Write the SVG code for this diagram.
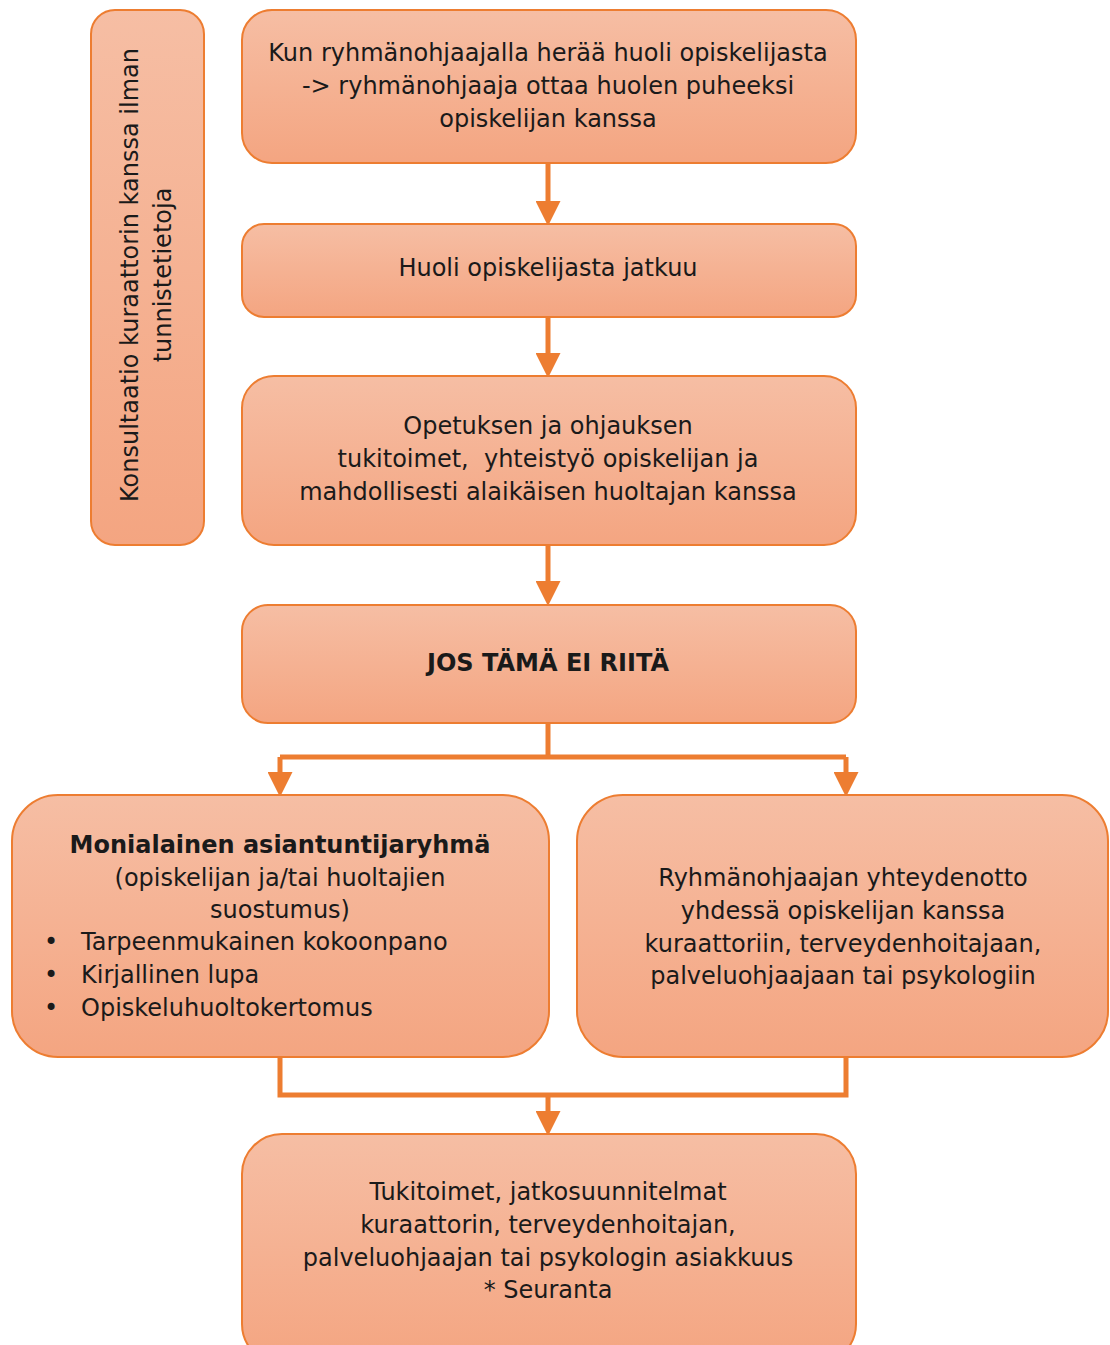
<svg xmlns="http://www.w3.org/2000/svg" width="1110" height="1345" viewBox="0 0 1110 1345">
<style>
.box{fill:url(#g);stroke:#ED7D31;stroke-width:2}
.t{font-family:"DejaVu Sans",sans-serif;font-size:24px;fill:#1a1a1a;text-anchor:middle}
.b{font-weight:bold}
.l{text-anchor:start}
.c{fill:none;stroke:#ED7D31;stroke-width:5}
</style>
<defs>
<linearGradient id="g" x1="0" y1="0" x2="0" y2="1">
<stop offset="0" stop-color="#F6BEA4"/>
<stop offset="1" stop-color="#F4A581"/>
</linearGradient>
<marker id="a" markerWidth="5" markerHeight="5" refX="2.2" refY="2.5" orient="auto" markerUnits="strokeWidth" viewBox="0 0 5 5">
<path d="M0,0 L5,2.5 L0,5 Z" fill="#ED7D31"/>
</marker>
</defs>
<g id="connectors">
<path class="c" d="M548,163 V212" marker-end="url(#a)"/>
<path class="c" d="M548,317 V364" marker-end="url(#a)"/>
<path class="c" d="M548,545 V592" marker-end="url(#a)"/>
<path class="c" d="M548,723 V757"/>
<path class="c" d="M280,757 H846"/>
<path class="c" d="M280,757 V783" marker-end="url(#a)"/>
<path class="c" d="M846,757 V783" marker-end="url(#a)"/>
<path class="c" d="M280,1057 V1095 H846 V1057"/>
<path class="c" d="M548,1095 V1122" marker-end="url(#a)"/>
</g>
<g id="side">
<rect class="box" x="91" y="10" width="113" height="535" rx="24"/>
<text class="t" transform="translate(138,275) rotate(-90)">Konsultaatio kuraattorin kanssa ilman</text>
<text class="t" transform="translate(171,275) rotate(-90)">tunnistetietoja</text>
</g>
<g id="n1">
<rect class="box" x="242" y="10" width="614" height="153" rx="30"/>
<text class="t" x="548" y="61">Kun ryhmänohjaajalla herää huoli opiskelijasta</text>
<text class="t" x="548" y="94">-&gt; ryhmänohjaaja ottaa huolen puheeksi</text>
<text class="t" x="548" y="127">opiskelijan kanssa</text>
</g>
<g id="n2">
<rect class="box" x="242" y="224" width="614" height="93" rx="22"/>
<text class="t" x="548" y="276">Huoli opiskelijasta jatkuu</text>
</g>
<g id="n3">
<rect class="box" x="242" y="376" width="614" height="169" rx="32"/>
<text class="t" x="548" y="434">Opetuksen ja ohjauksen</text>
<text class="t" x="548" y="467" xml:space="preserve">tukitoimet,  yhteistyö opiskelijan ja</text>
<text class="t" x="548" y="500">mahdollisesti alaikäisen huoltajan kanssa</text>
</g>
<g id="n4">
<rect class="box" x="242" y="605" width="614" height="118" rx="26"/>
<text class="t b" x="548" y="671">JOS TÄMÄ EI RIITÄ</text>
</g>
<g id="n5">
<rect class="box" x="12" y="795" width="537" height="262" rx="46"/>
<text class="t b" x="280" y="853">Monialainen asiantuntijaryhmä</text>
<text class="t" x="280" y="886">(opiskelijan ja/tai huoltajien</text>
<text class="t" x="280" y="918">suostumus)</text>
<text class="t l" x="44" y="950">•</text>
<text class="t l" x="81" y="950">Tarpeenmukainen kokoonpano</text>
<text class="t l" x="44" y="983">•</text>
<text class="t l" x="81" y="983">Kirjallinen lupa</text>
<text class="t l" x="44" y="1016">•</text>
<text class="t l" x="81" y="1016">Opiskeluhuoltokertomus</text>
</g>
<g id="n6">
<rect class="box" x="577" y="795" width="531" height="262" rx="46"/>
<text class="t" x="843" y="886">Ryhmänohjaajan yhteydenotto</text>
<text class="t" x="843" y="919">yhdessä opiskelijan kanssa</text>
<text class="t" x="843" y="952">kuraattoriin, terveydenhoitajaan,</text>
<text class="t" x="843" y="984">palveluohjaajaan tai psykologiin</text>
</g>
<g id="n7">
<rect class="box" x="242" y="1134" width="614" height="230" rx="40"/>
<text class="t" x="548" y="1200">Tukitoimet, jatkosuunnitelmat</text>
<text class="t" x="548" y="1233">kuraattorin, terveydenhoitajan,</text>
<text class="t" x="548" y="1266">palveluohjaajan tai psykologin asiakkuus</text>
<text class="t" x="548" y="1298">* Seuranta</text>
</g>
</svg>
